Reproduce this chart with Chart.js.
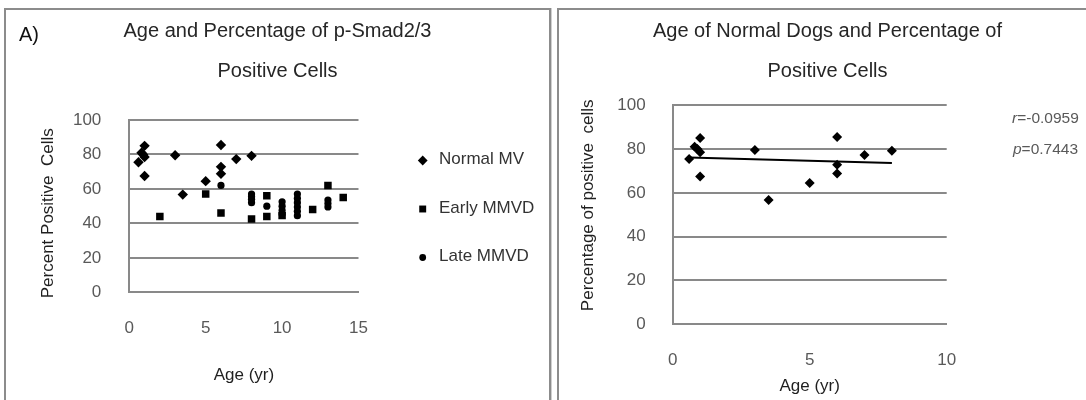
<!DOCTYPE html>
<html>
<head>
<meta charset="utf-8">
<script src="https://cdn.jsdelivr.net/npm/chart.js@4.4.1/dist/chart.umd.min.js"></script>
<style>
  html, body { margin: 0; padding: 0; background: #fff; overflow: hidden; width: 1086px; height: 400px; }
  .panel { position: absolute; top: 8px; height: 440px; box-sizing: border-box; border: 2px solid #8c8c8c; box-shadow: 1px 0 0 #cfcfcf; }
  #panelA { left: 4px; width: 547px; }
  #panelB { left: 557px; width: 560px; }
  canvas { position: absolute; }
  #chartA { left: 7px; top: 11px; }
  #chartB { left: 559px; top: 11px; }
</style>
</head>
<body>
<div class="panel" id="panelA"></div>
<div class="panel" id="panelB"></div>
<canvas id="chartA" width="541" height="389"></canvas>
<canvas id="chartB" width="537" height="389"></canvas>
<script>
// ---- data: age in years, percent of p-Smad2/3 positive cells ----
const normalAge = [0.6, 0.8, 0.9, 1, 1, 1, 3, 3.5, 5, 6, 6, 6, 7, 8];
const normalPct = [75.5, 81, 80, 78.5, 85, 67.5, 79.5, 56.7, 64.5, 85.5, 72.8, 68.8, 77.3, 79.2];

const earlyAge = [2, 5, 6, 8, 9, 9, 10, 12, 13, 14];
const earlyPct = [44, 57, 46, 42.5, 56, 44, 44.5, 48, 62, 55];

const lateAge = [6, 8, 8, 8, 8, 9, 10, 10, 10, 10, 11, 11, 11, 11, 11, 11, 13, 13, 13];
const latePct = [62, 57, 55.5, 54, 52, 50, 52.5, 50, 47.5, 45.5, 57, 54.5, 52, 49.5, 47, 44.5, 53.5, 51.5, 49.5];

const seriesNames = ['Normal MV', 'Early MMVD', 'Late MMVD'];

const titleA = ['Age and Percentage of p-Smad2/3', 'Positive Cells'];
const titleB = ['Age of Normal Dogs and Percentage of', 'Positive Cells'];
const panelTag = 'A)';
const xTitle = 'Age (yr)';
const yTitleA = 'Percent Positive  Cells   ';
const yTitleB = '    Percentage of positive  cells';
const statR = '-0.0959';
const statP = '0.7443';

// ---- shared styling ----
const FONT = '"Liberation Sans", Arial, Helvetica, sans-serif';
Chart.defaults.font.family = FONT;
Chart.defaults.animation = false;
Chart.defaults.plugins.legend.display = false;
Chart.defaults.plugins.tooltip.enabled = false;

const GRID = '#898989';
const TICK = '#595959';
const INK = '#1f1f1f';

function points(xs, ys) {
  return xs.map((x, i) => ({ x: x, y: ys[i] }));
}

function scatterSet(label, xs, ys, style, r) {
  return {
    type: 'scatter', label: label, data: points(xs, ys), xAxisID: 'x', yAxisID: 'y',
    pointStyle: style, pointRadius: r, pointHoverRadius: r,
    backgroundColor: '#000', borderColor: '#000', borderWidth: 0
  };
}

// least-squares fit, drawn between the smallest and largest age
function fitLine(xs, ys) {
  const n = xs.length;
  const mx = xs.reduce((a, b) => a + b, 0) / n;
  const my = ys.reduce((a, b) => a + b, 0) / n;
  let sxy = 0, sxx = 0;
  for (let i = 0; i < n; i++) { sxy += (xs[i] - mx) * (ys[i] - my); sxx += (xs[i] - mx) ** 2; }
  const b = sxy / sxx, a = my - b * mx;
  const x0 = Math.min(...xs), x1 = Math.max(...xs);
  return [{ x: x0, y: a + b * x0 }, { x: x1, y: a + b * x1 }];
}

function xScale(max, tickPad, h) {
  return {
    type: 'linear', position: 'bottom', min: 0, max: max,
    ticks: { stepSize: 5, padding: tickPad, color: TICK, font: { size: 17 } },
    grid: { display: false, drawTicks: false },
    border: { display: true, color: GRID, width: 2 },
    title: { display: true, text: xTitle, color: INK, font: { size: 17 }, padding: { top: 0, bottom: 0 } },
    afterFit(s) { s.height = h; }
  };
}

function yScale(title, tickPad, titlePad, w) {
  return {
    type: 'linear', position: 'left', min: 0, max: 100,
    ticks: { stepSize: 20, padding: tickPad, color: TICK, font: { size: 17 } },
    grid: { color: GRID, lineWidth: 2, drawTicks: false },
    border: { display: true, color: GRID, width: 2 },
    title: { display: true, text: title, color: INK, font: { size: 17 }, padding: { top: titlePad, bottom: 0 } },
    afterFit(s) { s.width = w; }
  };
}

// empty strip on the right of the plot, where the key / figures sit
function sideStrip(w) {
  return {
    type: 'linear', position: 'right', display: true, min: 0, max: 1,
    ticks: { display: false }, grid: { display: false, drawTicks: false },
    border: { display: false }, title: { display: false },
    afterFit(s) { s.width = w; }
  };
}

// series key listed beside the plot
const sideLegend = {
  id: 'sideLegend',
  afterDraw(chart, args, opts) {
    const ctx = chart.ctx;
    ctx.save();
    chart.data.datasets.forEach((ds, i) => {
      const y = opts.top + i * opts.gap;
      ctx.fillStyle = '#000';
      ctx.strokeStyle = '#000';
      Chart.helpers.drawPoint(ctx, { pointStyle: ds.pointStyle, radius: opts.radius[i], borderWidth: 0, rotation: 0 }, opts.x, y);
      ctx.font = '17px ' + FONT;
      ctx.fillStyle = opts.color;
      ctx.textAlign = 'left';
      ctx.textBaseline = 'middle';
      ctx.fillText(ds.label, opts.textX, y - 1);
    });
    ctx.restore();
  }
};

// free text placed on the canvas: panel tag and the correlation figures
const notes = {
  id: 'notes',
  afterDraw(chart, args, opts) {
    const ctx = chart.ctx;
    ctx.save();
    ctx.textBaseline = 'middle';
    ctx.textAlign = 'left';
    (opts.items || []).forEach(it => {
      let x = it.x;
      it.parts.forEach(p => {
        ctx.font = (p.italic ? 'italic ' : '') + it.size + 'px ' + FONT;
        ctx.fillStyle = it.color;
        ctx.fillText(p.text, x, it.y);
        x += ctx.measureText(p.text).width;
      });
    });
    ctx.restore();
  }
};

new Chart(document.getElementById('chartA'), {
  type: 'scatter',
  data: {
    datasets: [
      scatterSet(seriesNames[0], normalAge, normalPct, 'rectRot', 5.2),
      scatterSet(seriesNames[1], earlyAge, earlyPct, 'rect', 5.3),
      scatterSet(seriesNames[2], lateAge, latePct, 'circle', 3.6)
    ]
  },
  options: {
    responsive: false,
    layout: { padding: { left: 0, right: 0, top: 0, bottom: 14.8 } },
    scales: {
      x: xScale(15, 26, 92.9),
      y: yScale(yTitleA, 28, 31.1, 122.3),
      side: sideStrip(189.5)
    },
    plugins: {
      title: {
        display: true, text: titleA, color: '#262626',
        font: { size: 20, weight: 'normal', lineHeight: 2 },
        padding: { top: 0, bottom: 29 }
      },
      sideLegend: { x: 415.7, textX: 432, top: 149.5, gap: 48.5, radius: [4.9, 4.9, 3.4], color: '#333' },
      notes: { items: [{ x: 12, y: 24, size: 20, color: '#111', parts: [{ text: panelTag }] }] }
    }
  },
  plugins: [sideLegend, notes]
});

new Chart(document.getElementById('chartB'), {
  data: {
    datasets: [
      scatterSet(seriesNames[0], normalAge, normalPct, 'rectRot', 5),
      {
        type: 'line', label: 'fit', data: fitLine(normalAge, normalPct), xAxisID: 'x', yAxisID: 'y',
        borderColor: '#000', borderWidth: 2, pointRadius: 0, fill: false
      }
    ]
  },
  options: {
    responsive: false,
    layout: { padding: { left: 0, right: 0, top: 0, bottom: 3.8 } },
    scales: {
      x: xScale(10, 25.5, 71.9),
      y: yScale(yTitleB, 27, 18.8, 113.7),
      side: sideStrip(149.3)
    },
    plugins: {
      title: {
        display: true, text: titleB, color: '#262626',
        font: { size: 20, weight: 'normal', lineHeight: 2 },
        padding: { top: 0, bottom: 14.2 }
      },
      notes: {
        items: [
          { x: 453, y: 108, size: 15.5, color: TICK, parts: [{ text: 'r', italic: true }, { text: '=' + statR }] },
          { x: 454, y: 139, size: 15.5, color: TICK, parts: [{ text: 'p', italic: true }, { text: '=' + statP }] }
        ]
      }
    }
  },
  plugins: [notes]
});
</script>
</body>
</html>
